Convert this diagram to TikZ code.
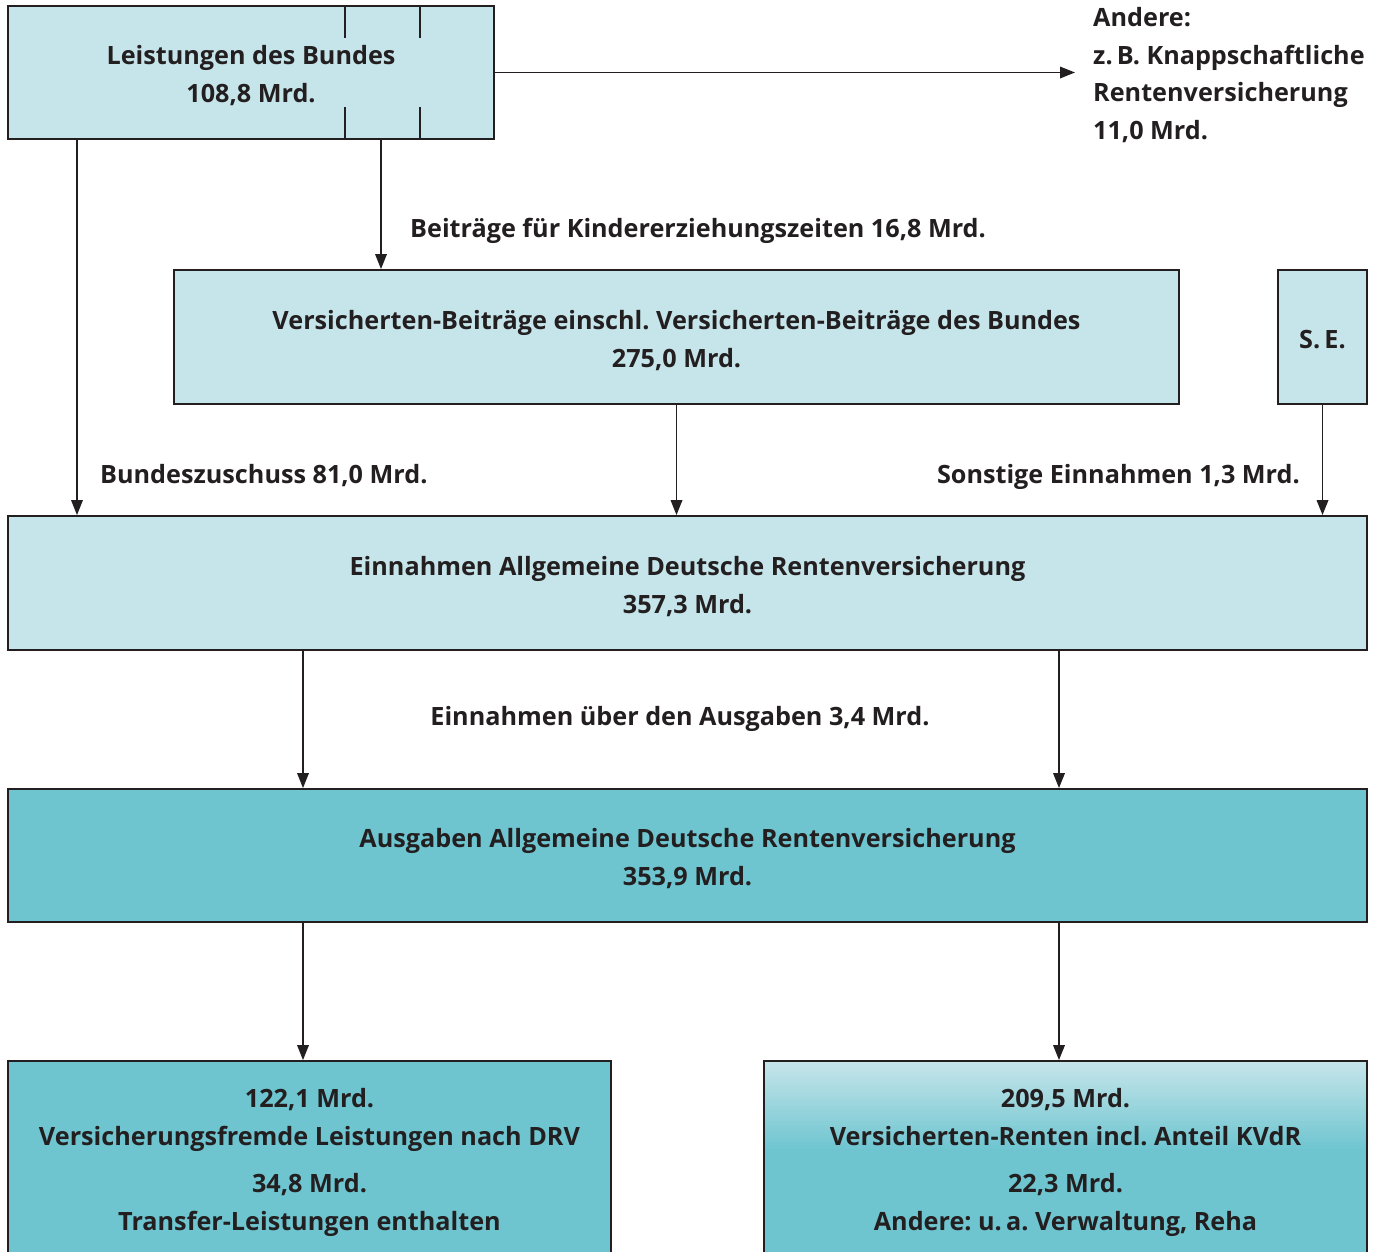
\documentclass[tikz,border=0pt]{standalone}
\usepackage{fontspec}
\setmainfont{Open Sans}
\usetikzlibrary{arrows.meta}
\definecolor{lightb}{HTML}{C6E5EA}
\definecolor{darkb}{HTML}{6EC5D0}
\definecolor{ink}{HTML}{231F20}
\frenchspacing
\tikzset{
  box/.style={draw=ink, line width=1.8pt, fill=lightb, inner sep=0pt},
  dbox/.style={box, fill=darkb},
  lbl/.style={inner sep=0pt, text=ink, font=\txt, align=center},
  arr/.style={draw=ink, line width=1.8pt, -{Triangle[length=15pt,width=11.5pt]}},
}
\newcommand{\txt}{\fontsize{25.2}{38}\selectfont\bfseries}
\begin{document}
\begin{tikzpicture}[x=1pt,y=-1pt]
\useasboundingbox (0,0) rectangle (1381,1251);
\clip (0,0) rectangle (1381,1251);
% top box
\node[box, minimum width=486, minimum height=133] (A) at (251,72.5) {};
\node[lbl] (At) at ([yshift=-3pt]A.center) {Leistungen des Bundes\\108,8 Mrd.};
\draw[ink, line width=1.8pt] (345,6) -- (345,38) (420,6) -- (420,38) (345,107) -- (345,139) (420,107) -- (420,139);
\node[lbl, anchor=west, align=left, font=\fontsize{25.2}{37.5}\selectfont\bfseries] (andere) at (1093,75) {Andere:\\z.\,B. Knappschaftliche\\Rentenversicherung\\11,0 Mrd.};
\draw[arr, shorten >=18pt] (A.east) -- (andere.west |- A.east);
% second row
\node[box, minimum width=1005, minimum height=134] (B) at (676.5,337) {};
\node[lbl] (Bt) at ([yshift=-4pt]B.center) {Versicherten-Beiträge einschl. Versicherten-Beiträge des Bundes\\275,0 Mrd.};
\node[box, minimum width=89, minimum height=134] (SE) at (1322.5,337) {};
\node[lbl] (SEt) at ([yshift=-3pt]SE.center) {S.\,E.};
\node[lbl, anchor=west] (kiez) at (410,231) {Beiträge für Kindererziehungszeiten 16,8 Mrd.};
% Einnahmen
\node[box, minimum width=1359, minimum height=134] (D) at (687.5,583) {};
\node[lbl] (Dt) at ([yshift=-4pt]D.center) {Einnahmen Allgemeine Deutsche Rentenversicherung\\357,3 Mrd.};
\node[lbl, anchor=west] (bz) at (100,476) {Bundeszuschuss 81,0 Mrd.};
\node[lbl, anchor=east] (sonst) at (1300,477) {Sonstige Einnahmen 1,3 Mrd.};
\draw[arr] (77,0 |- A.south) -- (77,0 |- D.north);
\draw[arr] (381,0 |- A.south) -- (381,0 |- B.north);
\draw[arr] (B.south) -- (B.south |- D.north);
\draw[arr] (SE.south) -- (SE.south |- D.north);
% Ausgaben
\node[dbox, minimum width=1359, minimum height=133] (E) at (687.5,855.5) {};
\node[lbl] (Et) at ([yshift=-3pt]E.center) {Ausgaben Allgemeine Deutsche Rentenversicherung\\353,9 Mrd.};
\node[lbl] (ueber) at (680,719) {Einnahmen über den Ausgaben 3,4 Mrd.};
\draw[arr] (303,0 |- D.south) -- (303,0 |- E.north);
\draw[arr] (1059,0 |- D.south) -- (1059,0 |- E.north);
% bottom boxes
\node[dbox, minimum width=603, minimum height=198] (F) at (309.5,1160) {};
\node[lbl] (Ft) at ([yshift=-2pt]F.center) {122,1 Mrd.\\Versicherungsfremde Leistungen nach DRV\\[9pt]34,8 Mrd.\\Transfer-Leistungen enthalten};
\node[dbox, minimum width=603, minimum height=198,
  path picture={
    \foreach \k in {0,...,44}{
      \pgfmathsetmacro{\pc}{100-\k*100/44}
      \fill[lightb!\pc!darkb] ([yshift=-2*\k pt]path picture bounding box.north west) rectangle ([yshift=-2*\k pt-2.6pt]path picture bounding box.north east);
    }
  }] (G) at (1065.5,1160) {};
\node[lbl] (Gt) at ([yshift=-2pt]G.center) {209,5 Mrd.\\Versicherten-Renten incl. Anteil KVdR\\[9pt]22,3 Mrd.\\Andere: u.\,a. Verwaltung, Reha};
\draw[arr] (303,0 |- E.south) -- (303,0 |- F.north);
\draw[arr] (1059,0 |- E.south) -- (1059,0 |- G.north);
\end{tikzpicture}
\end{document}
